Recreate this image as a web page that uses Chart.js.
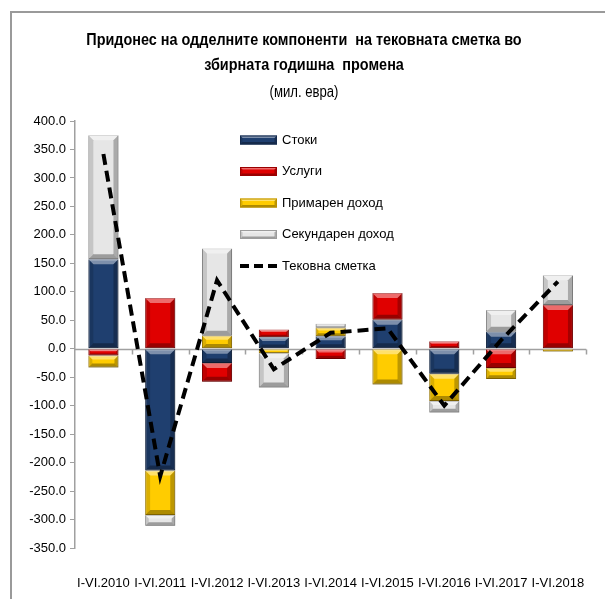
<!DOCTYPE html>
<html>
<head>
<meta charset="utf-8">
<script src="https://cdn.jsdelivr.net/npm/chart.js@4.4.1/dist/chart.umd.min.js"></script>
<style>
  html, body { margin:0; padding:0; background:#fff; }
  #wrap { position:relative; width:605px; height:599px; overflow:hidden; }
  #frame { position:absolute; left:10px; top:11px; width:700px; height:700px; border-left:2px solid #9a9a9a; border-top:2px solid #9a9a9a; }
  canvas { position:absolute; left:0; top:0; }
  .t { position:absolute; left:0; width:608px; text-align:center; font-family:"Liberation Sans", Arial, sans-serif; color:#000; white-space:pre; transform-origin:304px 50%; }
  .t1 { font-weight:bold; font-size:16px; transform:scaleX(0.9); }
  .t2 { font-size:16px; transform:scaleX(0.82); }
</style>
</head>
<body>
<div id="wrap">
  <div id="frame"></div>
  <canvas id="c" width="605" height="599"></canvas>
  <div class="t t1" style="top:31px">Придонес на одделните компоненти  на тековната сметка во</div>
  <div class="t t1" style="top:56px">збирната годишна  промена</div>
  <div class="t t2" style="top:83px">(мил. евра)</div>
</div>
<script>
const categories = ['I-VI.2010','I-VI.2011','I-VI.2012','I-VI.2013','I-VI.2014','I-VI.2015','I-VI.2016','I-VI.2017','I-VI.2018'];
const stoki      = [157, -214, -25,  20,  22,  51, -44,  30,  -1];
const uslugi     = [-12,   89, -33,  14, -18,  47,  13, -34,  77];
const primaren   = [-21,  -78,  23,  -8,  15, -63, -48, -19,  -4];
const sekundaren = [218,  -19, 153, -60,   7,   0, -20,  38,  52];
const tekovna    = [342, -224, 120, -36,  28,  36, -100, 15, 118];
const seriesNames = ['Стоки','Услуги','Примарен доход','Секундарен доход','Тековна сметка'];
const yTicks = [400,350,300,250,200,150,100,50,0,-50,-100,-150,-200,-250,-300,-350];

const FONT = '"Liberation Sans", Arial, sans-serif';
const fills   = ['#1F3F6F','#E00000','#FFCC00','#E6E6E6'];
const borders = ['#142a4c','#9a0000','#b98f00','#9c9c9c'];

function drawBevel(ctx, l, t, r, b, s) {
  const poly = (pts, col) => { ctx.beginPath(); ctx.moveTo(pts[0][0], pts[0][1]); for (let i=1;i<pts.length;i++) ctx.lineTo(pts[i][0], pts[i][1]); ctx.closePath(); ctx.fillStyle = col; ctx.fill(); };
  poly([[l,t],[r,t],[r-s,t+s],[l+s,t+s]], 'rgba(255,255,255,0.42)');
  poly([[l,b],[r,b],[r-s,b-s],[l+s,b-s]], 'rgba(0,0,0,0.32)');
  poly([[l,t],[l+s,t+s],[l+s,b-s],[l,b]], 'rgba(0,0,0,0.14)');
  poly([[r,t],[r-s,t+s],[r-s,b-s],[r,b]], 'rgba(0,0,0,0.26)');
}

const bevelPlugin = {
  id: 'bevel',
  afterDatasetDraw(chart, args) {
    const meta = args.meta;
    if (meta.type !== 'bar') return;
    const ctx = chart.ctx;
    ctx.save();
    meta.data.forEach(el => {
      const p = el.getProps(['x','y','base','width'], true);
      const l = p.x - p.width/2, r = p.x + p.width/2;
      const t = Math.min(p.y, p.base), b = Math.max(p.y, p.base);
      const h = b - t;
      if (h < 1) return;
      const s = Math.min(5, h/3, p.width/4);
      drawBevel(ctx, l, t, r, b, s);
    });
    ctx.restore();
  }
};

const zeroLinePlugin = {
  id: 'zeroLine',
  beforeDatasetsDraw(chart) {
    const ctx = chart.ctx, xs = chart.scales.x, ys = chart.scales.y, ca = chart.chartArea;
    const y0 = Math.round(ys.getPixelForValue(0)) + 0.5;
    ctx.save();
    ctx.strokeStyle = '#a0a0a0';
    ctx.lineWidth = 1.5;
    ctx.beginPath();
    ctx.moveTo(ca.left, y0); ctx.lineTo(ca.right, y0);
    const half = (xs.getPixelForValue(1) - xs.getPixelForValue(0)) / 2;
    for (let i = 0; i < categories.length; i++) {
      const xb = Math.round(xs.getPixelForValue(i) + half) + 0.5;
      ctx.moveTo(xb, y0); ctx.lineTo(xb, y0 + 5);
    }
    ctx.stroke();
    ctx.restore();
  }
};

const legendPlugin = {
  id: 'customLegend',
  afterDraw(chart) {
    const ctx = chart.ctx, ca = chart.chartArea;
    const x0 = ca.left + 165, y0 = ca.top + 19, rowH = 31.5, mw = 37, mh = 9;
    ctx.save();
    ctx.font = '13px ' + FONT;
    ctx.textBaseline = 'middle';
    ctx.fillStyle = '#000';
    seriesNames.forEach((name, i) => {
      const cy = y0 + i * rowH;
      if (i < 4) {
        ctx.fillStyle = fills[i];
        ctx.fillRect(x0, cy - mh/2, mw, mh);
        drawBevel(ctx, x0, cy - mh/2, x0 + mw, cy + mh/2, 2.5);
        ctx.strokeStyle = borders[i]; ctx.lineWidth = 1;
        ctx.strokeRect(x0 + 0.5, cy - mh/2 + 0.5, mw - 1, mh - 1);
      } else {
        ctx.strokeStyle = '#000'; ctx.lineWidth = 4; ctx.setLineDash([9, 5]);
        ctx.beginPath(); ctx.moveTo(x0, cy); ctx.lineTo(x0 + mw, cy); ctx.stroke();
        ctx.setLineDash([]);
      }
      ctx.fillStyle = '#000';
      ctx.fillText(name, x0 + mw + 5, cy);
    });
    ctx.restore();
  }
};

const barSeries = [stoki, uslugi, primaren, sekundaren];
const datasets = barSeries.map((d, i) => ({
  type: 'bar',
  label: seriesNames[i],
  data: d,
  backgroundColor: fills[i],
  borderColor: borders[i],
  borderWidth: 1,
  borderSkipped: false,
  stack: 'bars',
  order: 1,
  categoryPercentage: 0.53,
  barPercentage: 1.0
}));
datasets.push({
  type: 'line',
  label: seriesNames[4],
  data: tekovna,
  borderColor: '#000',
  borderWidth: 4,
  borderDash: [11, 6],
  pointRadius: 0,
  tension: 0,
  fill: false,
  stack: 'line',
  order: 0
});

new Chart(document.getElementById('c'), {
  data: { labels: categories, datasets },
  options: {
    responsive: false,
    animation: false,
    devicePixelRatio: 1,
    layout: { padding: { top: 121, right: 13, bottom: 0, left: 0 } },
    plugins: { legend: { display: false }, tooltip: { enabled: false }, title: { display: false } },
    scales: {
      x: {
        stacked: true,
        grid: { display: false },
        border: { display: false },
        ticks: { color: '#000', font: { family: FONT, size: 13 }, padding: 20, maxRotation: 0, autoSkip: false },
        afterFit(s) { s.height = 51; }
      },
      y: {
        stacked: true,
        min: -350, max: 400,
        afterBuildTicks(s) { s.ticks = yTicks.map(v => ({ value: v })); },
        grid: { drawOnChartArea: false, tickLength: 5, color: '#a0a0a0' },
        border: { display: true, color: '#a0a0a0', width: 1.5 },
        ticks: { color: '#000', font: { family: FONT, size: 13 }, padding: 4, callback: v => Number(v).toFixed(1) },
        afterFit(s) { s.width = 75; }
      }
    }
  },
  plugins: [zeroLinePlugin, bevelPlugin, legendPlugin]
});
</script>
</body>
</html>
